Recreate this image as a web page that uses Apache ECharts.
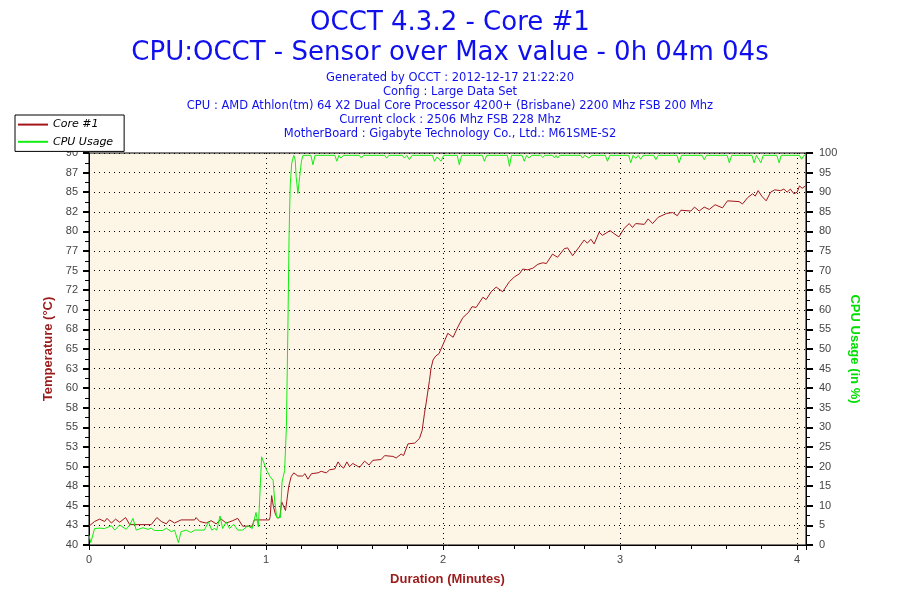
<!DOCTYPE html>
<html>
<head>
<meta charset="utf-8">
<script src="https://cdn.jsdelivr.net/npm/echarts@6/dist/echarts.min.js"></script>
<style>
  html, body { margin: 0; padding: 0; background: #fff; }
  #occtChart { width: 900px; height: 600px; }
</style>
</head>
<body>
<div id="occtChart"></div>
<script>
// header texts
var titleLines = ['OCCT 4.3.2 - Core #1', 'CPU:OCCT - Sensor over Max value - 0h 04m 04s'];
var infoLines = [
    'Generated by OCCT : 2012-12-17 21:22:20',
    'Config : Large Data Set',
    'CPU : AMD Athlon(tm) 64 X2 Dual Core Processor 4200+ (Brisbane) 2200 Mhz FSB 200 Mhz',
    'Current clock : 2506 Mhz FSB 228 Mhz',
    'MotherBoard : Gigabyte Technology Co., Ltd.: M61SME-S2'
];
var seriesNames = ['Core #1', 'CPU Usage'];

// left axis labels (as printed by OCCT, every 2.5 degrees)
var tempTickLabels = ['40','43','45','48','50','53','55','58','60','63','65','68','70','72','75','77','80','82','85','87','90'];

// Core #1 temperature: seconds / degrees C
var tempSec = [0,1.9,3.6,5.3,6.1,7.6,9,10.4,12.4,13.8,21.1,23,24.5,26.2,27.3,29,31.2,35.8,36.3,37.5,
    39.7,41.4,43.1,44.8,46.5,48.7,50.4,52.1,55.3,56,61.1,61.4,61.9,62.5,63.2,64,64.7,65.3,65.9,66.6,
    67,67.7,68.5,69.4,70.8,72.4,73.2,74.2,75.4,77.6,78.7,80.4,81.6,83.3,84.4,85.3,86.3,87.4,88.3,89.4,
    91.7,93.4,94.9,96.2,99,100.2,103,104.1,105.8,106.6,108.1,110.4,112,112.9,113.7,114.3,114.8,115.4,115.9,116.6,
    117.5,118.6,119.9,121.6,123.4,125,126.7,128.7,129.8,131.2,133.5,134.6,136.3,138,140.2,142.5,144.2,145.9,147,148.7,
    150.4,152.1,153.8,155,157.1,158.8,161.1,162.2,163.9,166.1,167.8,168.9,170.1,171.2,172.9,174,176.6,178,179.6,181.4,
    183.1,184.2,185.3,188.2,189.5,191,192.9,195.8,197.8,199.4,200.6,204,205.2,206.8,208.5,210.2,212.2,214.7,216.4,220.3,
    221.5,223.2,224.9,225.8,226.8,228,229.5,231,232.4,234.4,235.5,236.6,237.7,238.9,240,240.8,241.7,242.8];
var tempVal = [42.4,43.0,43.3,43.0,43.4,42.8,43.3,42.9,43.5,42.6,42.6,43.5,43.0,42.7,43.2,42.8,43.2,43.2,43.5,43.0,
    42.8,43.1,42.7,43.3,42.8,43.1,43.4,42.4,42.4,43.2,43.2,43.6,46.3,44.9,43.9,43.4,43.6,45.5,45.3,44.4,
    45.5,47.5,48.7,49.2,48.8,48.8,49.1,48.4,49.1,49.2,49.4,49.2,49.6,49.7,50.6,50.1,49.8,50.6,50.0,50.4,
    49.9,50.7,50.2,50.8,50.9,51.4,51.3,51.1,51.6,51.4,52.9,53.0,53.6,54.6,56.8,58.2,59.5,61.0,62.5,63.6,
    64.1,64.4,65.5,67.0,66.5,67.8,69.0,69.7,70.4,70.3,71.6,71.3,72.3,72.9,72.3,73.6,74.2,74.6,75.2,75.1,
    75.3,75.8,76.0,75.9,77.1,76.7,77.8,77.9,76.9,78.0,78.9,78.5,79.0,78.4,79.9,79.5,80.1,79.7,79.3,80.4,
    81.0,80.5,81.0,80.9,81.6,81.0,81.8,82.3,82.4,82.0,82.7,82.6,83.1,82.6,83.1,82.8,83.4,83.0,83.9,83.8,
    83.5,84.3,84.8,84.5,85.2,84.5,83.9,85.0,85.3,85.2,85.4,85.0,85.4,84.8,85.0,85.8,85.5,85.8];

// CPU usage: seconds / percent
var cpuSec = [0,0.6,1.9,3.6,5.3,5.9,7.6,8.7,10.4,12.6,13.8,14.9,16,18.3,20,21.1,22.2,25,26.2,27.9,
    29,30.3,31.2,32.9,34.6,35.8,39.1,40.5,41.6,42.5,43.3,44.4,45.3,46.5,47.6,49,50.4,52.1,53.8,55.3,
    55.7,56.6,57.4,58.5,58.8,60.2,61.4,62.4,62.9,63.6,64.9,65.4,66.3,66.9,67.4,67.8,68.2,68.7,69.4,69.9,
    70.2,70.8,71.4,72,72.5,75.2,75.9,76.6,83.3,84,84.7,85.4,86.2,91.6,92.3,93,100.2,100.9,101.6,106.2,
    106.9,107.7,108.6,109.5,116.4,117.1,118,119.3,120.2,124.8,125.5,126.3,133.3,134,134.8,141.8,142.5,143.2,146.8,147.5,
    148.3,149.2,150,153.1,153.8,154.5,157,157.7,158.3,158.8,159.5,166.6,167.3,168,169.5,170.3,175,175.7,176.5,182.9,
    183.6,184.4,185.3,186.1,187,187.8,191.4,192.1,192.9,199.3,200,200.8,207.8,208.5,209.3,216.3,217,217.8,224.7,225.4,
    226.2,227.7,228.5,233.1,233.9,234.6,240.8,241.5,242.3,243];
var cpuVal = [2.5,0.6,4.2,4.3,4.2,3.8,4.9,3.8,5.1,4.0,5.1,6.8,3.8,4.4,4.0,4.3,3.7,3.7,4.3,3.4,
    3.8,0.6,3.4,3.8,3.2,3.8,3.8,5.9,3.8,4.2,3.8,7.4,4.2,5.9,4.2,5.3,3.8,3.8,4.9,4.2,
    3.8,8.3,4.6,22.5,22.1,19.1,17.4,16.5,11.5,7.0,7.0,16.0,19.0,30.2,54.8,78.7,91.8,97.4,99.4,98.2,
    94.0,89.7,94.0,97.9,99.4,99.4,97.0,99.4,99.4,97.9,99.4,98.7,99.4,99.4,98.7,99.4,99.4,98.7,99.4,99.4,
    98.7,99.4,98.3,99.4,99.4,97.9,99.0,97.9,99.4,99.4,97.0,99.4,99.4,97.9,99.4,99.4,96.6,99.4,99.4,97.9,
    99.4,98.7,99.4,99.4,98.9,99.4,99.4,98.8,99.4,98.7,99.4,99.4,98.7,99.4,98.7,99.4,99.4,97.9,99.4,99.4,
    97.5,99.4,98.6,99.4,98.4,99.4,99.4,98.3,99.4,99.4,97.5,99.4,99.4,98.3,99.4,99.4,97.5,99.4,99.4,97.5,
    99.4,97.5,99.4,99.4,97.5,99.4,99.4,98.4,99.4,99.4];

function toMinutes(secs, vals) {
    var out = [];
    for (var i = 0; i < secs.length; i++) {
        out.push([secs[i] / 60, vals[i]]);
    }
    return out;
}

var myChart = echarts.init(document.getElementById('occtChart'));
var labelFont = { color: '#444', fontFamily: 'Liberation Sans', fontSize: 11 };
var dotted = { color: '#000', width: 1, type: [1, 4] };

var option = {
    animation: false,
    backgroundColor: '#fff',
    title: [{
        text: titleLines.join('\n'),
        left: 'center',
        top: 3,
        textStyle: { color: '#1010EE', fontFamily: 'DejaVu Sans', fontSize: 26, fontWeight: 'normal', lineHeight: 30 }
    }, {
        text: infoLines.join('\n'),
        left: 'center',
        top: 66,
        textStyle: { color: '#1010EE', fontFamily: 'DejaVu Sans', fontSize: 11.5, fontWeight: 'normal', lineHeight: 14 }
    }],
    legend: {
        orient: 'vertical',
        left: 15,
        top: 115,
        padding: [4, 11, 4, 2],
        itemWidth: 30,
        itemHeight: 14,
        itemGap: 6,
        backgroundColor: '#fff',
        borderColor: '#000',
        borderWidth: 1,
        borderRadius: 0,
        data: seriesNames,
        itemStyle: { color: 'transparent', borderColor: 'transparent', borderWidth: 0, opacity: 0 },
        textStyle: { color: '#000', fontFamily: 'DejaVu Sans', fontStyle: 'italic', fontSize: 11 }
    },
    grid: {
        left: 89,
        right: 94,
        top: 153,
        bottom: 55,
        show: true,
        backgroundColor: '#FDF6E7',
        borderColor: '#000',
        borderWidth: 1
    },
    xAxis: {
        type: 'value',
        min: 0,
        max: 4.05,
        interval: 1,
        name: 'Duration (Minutes)',
        nameLocation: 'middle',
        nameGap: 28,
        nameTextStyle: { color: '#9B1B1B', fontFamily: 'Liberation Sans', fontWeight: 'bold', fontSize: 13 },
        axisLine: { lineStyle: { color: '#000' } },
        axisTick: { length: 5, lineStyle: { color: '#000' } },
        minorTick: { show: true, splitNumber: 5, length: 4, lineStyle: { color: '#000' } },
        axisLabel: {
            margin: 9,
            color: labelFont.color, fontFamily: labelFont.fontFamily, fontSize: labelFont.fontSize,
            formatter: function (v) { return Math.abs(v - Math.round(v)) < 1e-6 ? String(Math.round(v)) : ''; }
        },
        splitLine: { show: true, lineStyle: dotted }
    },
    yAxis: [{
        type: 'value',
        min: 40,
        max: 90,
        interval: 2.5,
        position: 'left',
        name: 'Temperature (°C)',
        nameLocation: 'middle',
        nameGap: 33,
        nameTextStyle: { color: '#9B1B1B', fontFamily: 'Liberation Sans', fontWeight: 'bold', fontSize: 13 },
        axisLine: { show: true, lineStyle: { color: '#000' } },
        axisTick: { show: true, length: 6, lineStyle: { color: '#000', width: 2 } },
        minorTick: { show: true, splitNumber: 2, length: 4, lineStyle: { color: '#000' } },
        axisLabel: {
            margin: 11,
            color: labelFont.color, fontFamily: labelFont.fontFamily, fontSize: labelFont.fontSize,
            formatter: function (v) { return tempTickLabels[Math.round((v - 40) / 2.5)] || ''; }
        },
        splitLine: { show: true, lineStyle: dotted }
    }, {
        type: 'value',
        min: 0,
        max: 100,
        interval: 5,
        position: 'right',
        name: 'CPU Usage (in %)',
        nameLocation: 'middle',
        nameRotate: -90,
        nameGap: 31,
        nameTextStyle: { color: '#00DD00', fontFamily: 'Liberation Sans', fontWeight: 'bold', fontSize: 13 },
        axisLine: { show: true, lineStyle: { color: '#000' } },
        axisTick: { show: true, length: 7, lineStyle: { color: '#000', width: 2 } },
        minorTick: { show: true, splitNumber: 2, length: 4, lineStyle: { color: '#000' } },
        axisLabel: {
            margin: 13,
            color: labelFont.color, fontFamily: labelFont.fontFamily, fontSize: labelFont.fontSize
        },
        splitLine: { show: false }
    }],
    series: [{
        name: seriesNames[0],
        type: 'line',
        yAxisIndex: 0,
        symbol: 'none',
        color: '#A3151B',
        lineStyle: { width: 1, color: '#A3151B' },
        data: toMinutes(tempSec, tempVal)
    }, {
        name: seriesNames[1],
        type: 'line',
        yAxisIndex: 1,
        symbol: 'none',
        color: '#11EE11',
        lineStyle: { width: 1, color: '#11EE11' },
        data: toMinutes(cpuSec, cpuVal)
    }]
};
myChart.setOption(option);
</script>
</body>
</html>
